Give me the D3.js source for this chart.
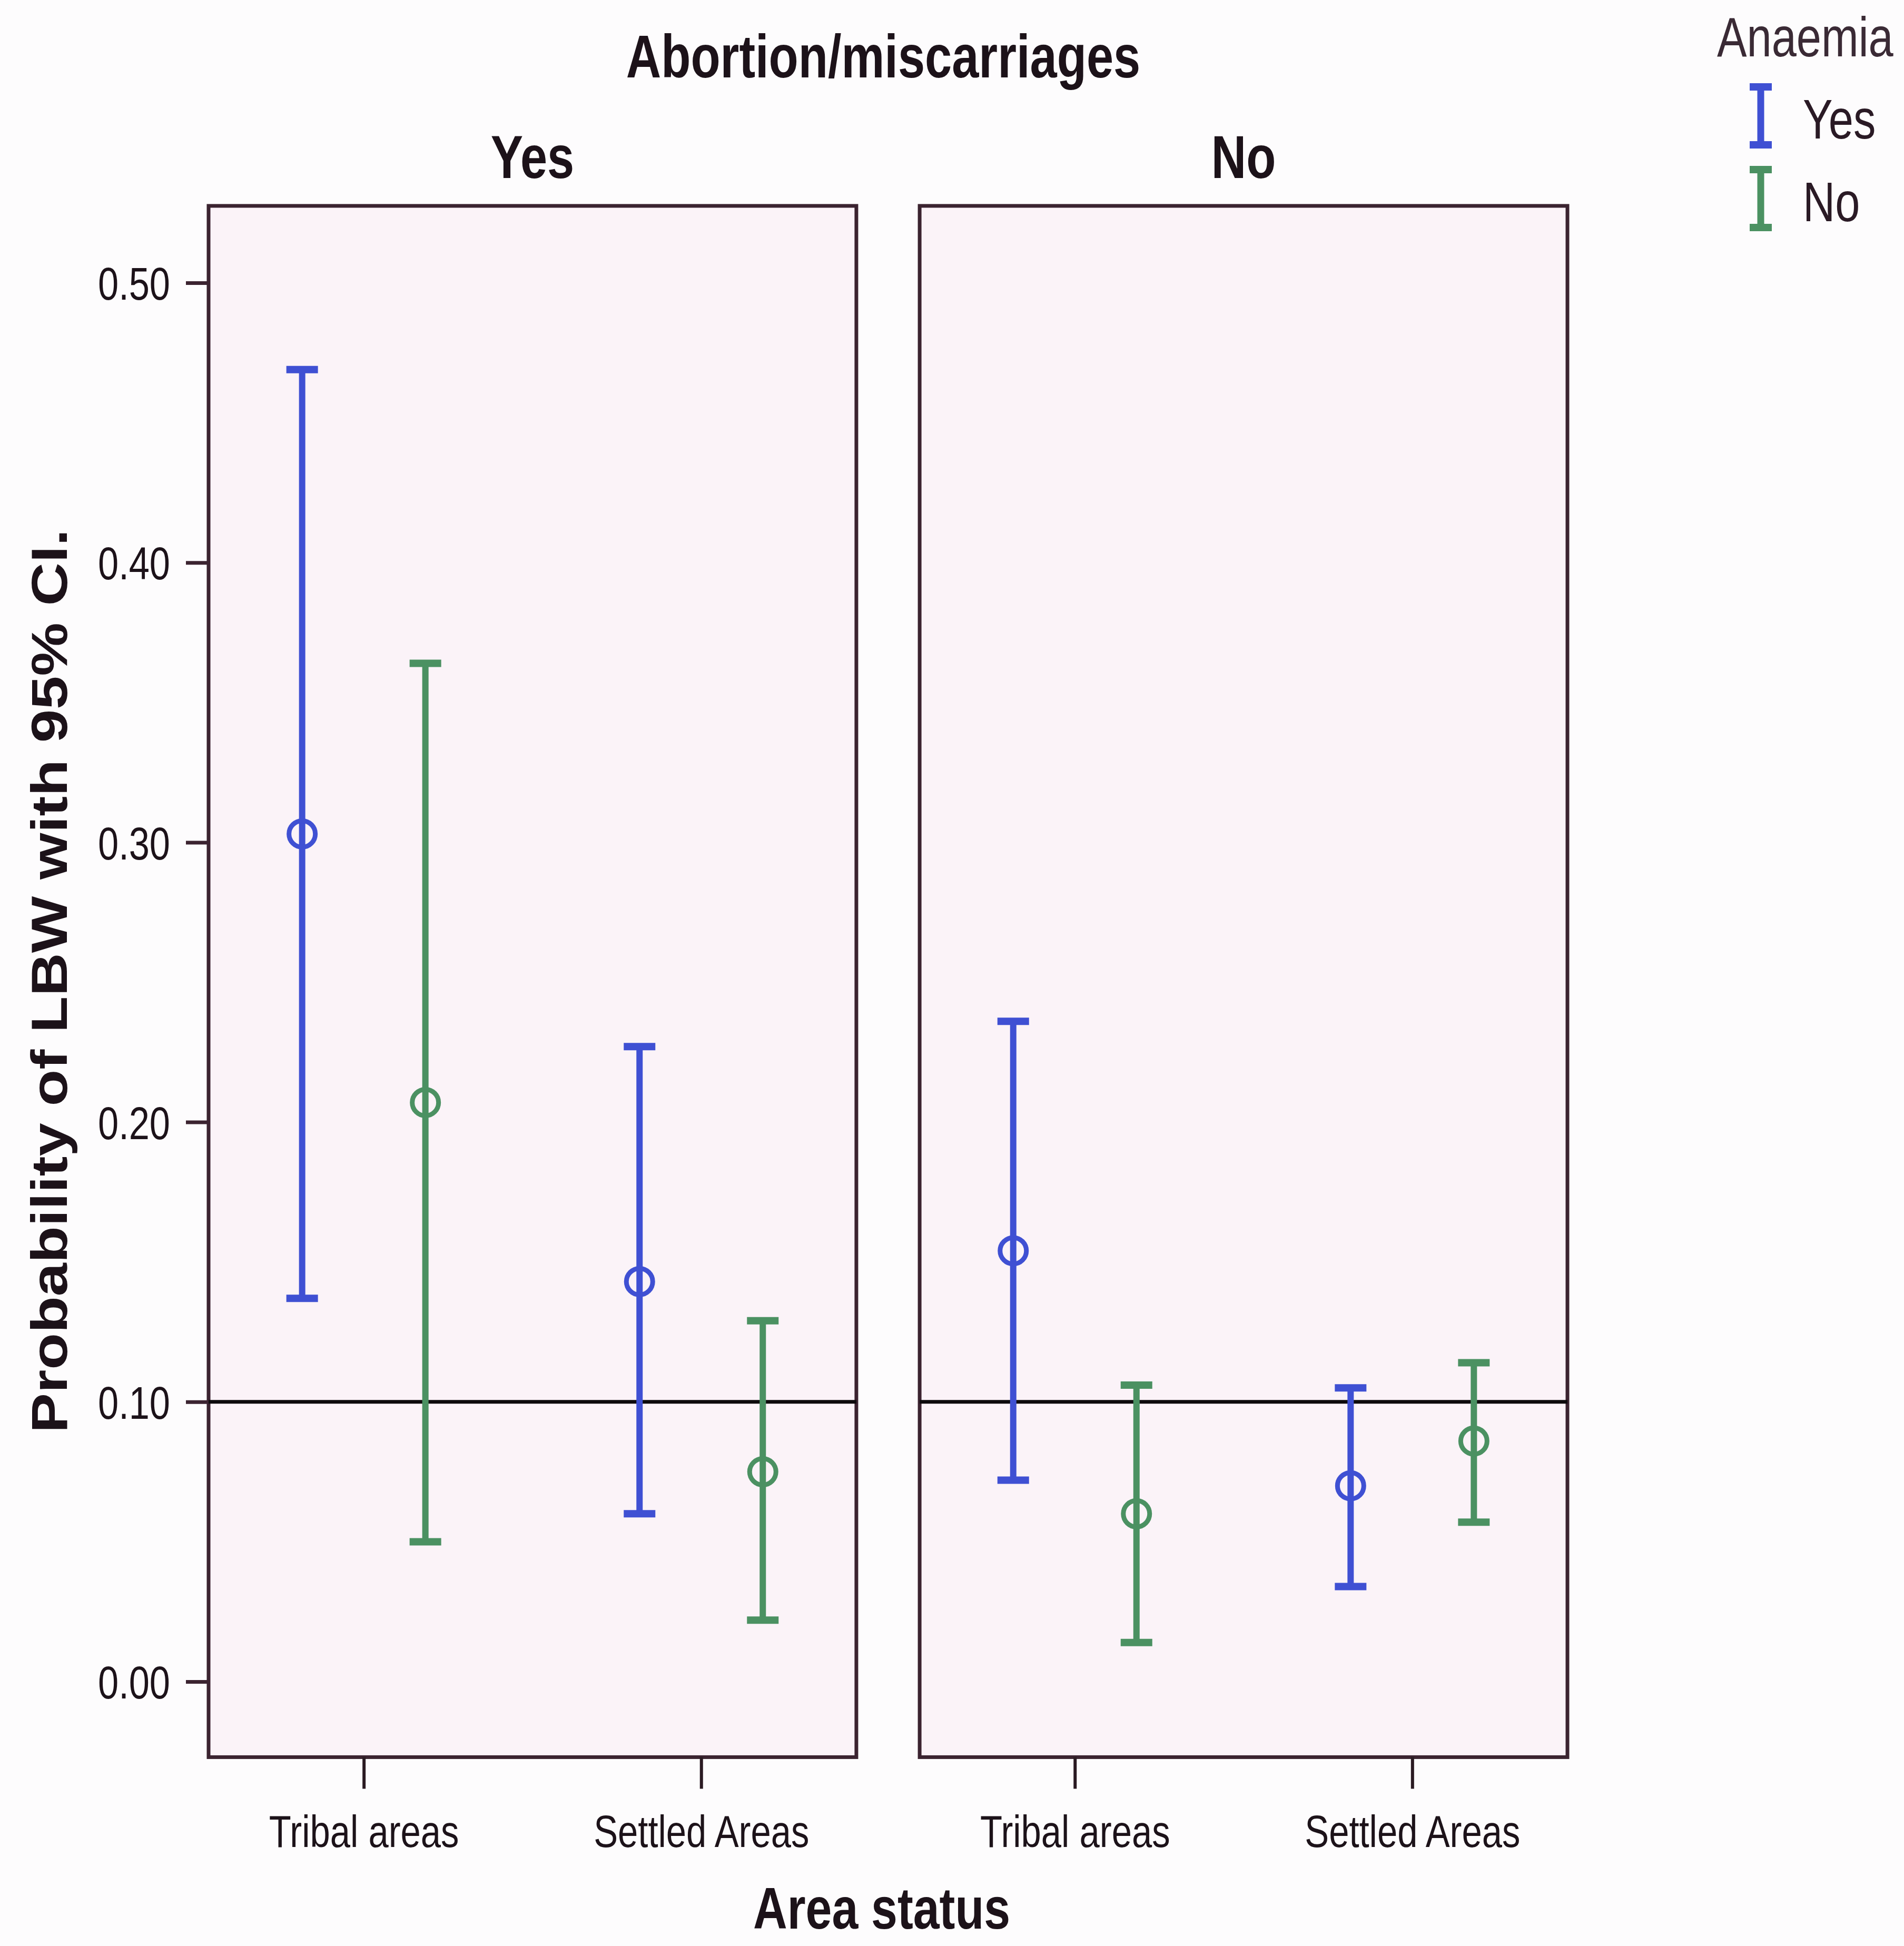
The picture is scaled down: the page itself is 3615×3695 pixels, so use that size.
<!DOCTYPE html>
<html>
<head>
<meta charset="utf-8">
<script src="https://cdn.jsdelivr.net/npm/d3@7"></script>
<style>
  body { margin: 0; background: #fdfcfd; }
  text { font-family: "Liberation Sans", Arial, sans-serif; fill: #1c1219; }
</style>
</head>
<body>
<div class="chart"></div>
<script>
// Data
var abortionGroups = ["Yes", "No"];
var areaStatus = ["Tribal areas", "Settled Areas"];
var anaemiaGroups = ["Yes", "No"];

var rowAbortion = ["Yes", "Yes", "Yes", "Yes", "No", "No", "No", "No"];
var rowArea = ["Tribal areas", "Tribal areas", "Settled Areas", "Settled Areas",
               "Tribal areas", "Tribal areas", "Settled Areas", "Settled Areas"];
var rowAnaemia = ["Yes", "No", "Yes", "No", "Yes", "No", "Yes", "No"];
var meanValues = [0.303, 0.207, 0.143, 0.075, 0.154, 0.060, 0.070, 0.086];
var lowerCI = [0.137, 0.050, 0.060, 0.022, 0.072, 0.014, 0.034, 0.057];
var upperCI = [0.469, 0.364, 0.227, 0.129, 0.236, 0.106, 0.105, 0.114];

var yTicks = [0, 0.1, 0.2, 0.3, 0.4, 0.5];
var refValue = 0.10;

// Set up the chart
var svgWidth = 3615;
var svgHeight = 3695;
var SX = 0.8; // the original text is squeezed horizontally

var colors = { Yes: "#3f50d3", No: "#4b9162" };

var svg = d3.select(".chart")
  .append("svg")
  .attr("width", svgWidth)
  .attr("height", svgHeight);

var yScale = d3.scaleLinear().domain([0, 0.5]).range([3193, 537]);
var yMin = -0.027, yMax = 0.5275;

var facetScale = d3.scaleBand()
  .domain(abortionGroups)
  .range([396, 2976])
  .paddingInner(0.089);

var areaScale = d3.scalePoint()
  .domain(areaStatus)
  .range([0, facetScale.bandwidth()])
  .padding(0.46);

var offsetScale = d3.scalePoint().domain(anaemiaGroups).range([-117, 117]);

function label(g, x, y, txt, size, weight, anchor) {
  return g.append("text")
    .attr("transform", "translate(" + x + "," + y + ") scale(" + SX + ",1)")
    .attr("text-anchor", anchor || "middle")
    .style("font-size", size + "px")
    .style("font-weight", weight || "normal")
    .text(txt);
}

var rows = meanValues.map(function(m, i) {
  return { abortion: rowAbortion[i], area: rowArea[i], anaemia: rowAnaemia[i],
           mean: m, lo: lowerCI[i], hi: upperCI[i] };
});

abortionGroups.forEach(function(grp) {
  var panel = svg.append("g")
    .attr("transform", "translate(" + facetScale(grp) + ",0)");
  var w = facetScale.bandwidth();

  panel.append("rect")
    .attr("x", 0)
    .attr("y", yScale(yMax))
    .attr("width", w)
    .attr("height", yScale(yMin) - yScale(yMax))
    .attr("fill", "#fbf3f8")
    .attr("stroke", "#3b2330")
    .attr("stroke-width", 7);

  // bottom axis
  var bottomAxis = d3.axisBottom(areaScale).tickSize(60).tickPadding(50);
  var ax = panel.append("g")
    .attr("transform", "translate(0," + yScale(yMin) + ")")
    .call(bottomAxis);
  ax.select(".domain").remove();
  ax.attr("font-size", null).attr("font-family", null);
  ax.selectAll(".tick line").attr("stroke", "#2a1a22").attr("stroke-width", 6);
  ax.selectAll(".tick text")
    .style("font-size", "86px")
    .attr("transform", "scale(" + SX + ",1)");

  // reference line
  panel.append("line")
    .attr("x1", 0).attr("x2", w)
    .attr("y1", yScale(refValue)).attr("y2", yScale(refValue))
    .attr("stroke", "#0d0a0c")
    .attr("stroke-width", 7);

  // facet header
  label(panel, w / 2, 338, grp, 115, "bold");

  var data = rows.filter(function(r) { return r.abortion === grp; });
  var bars = panel.selectAll(".bar")
    .data(data)
    .enter()
    .append("g")
    .attr("class", "bar")
    .attr("transform", function(d) {
      return "translate(" + (areaScale(d.area) + offsetScale(d.anaemia)) + ",0)";
    });

  bars.append("line")
    .attr("y1", function(d) { return yScale(d.lo); })
    .attr("y2", function(d) { return yScale(d.hi); })
    .attr("stroke", function(d) { return colors[d.anaemia]; })
    .attr("stroke-width", 12);

  ["hi", "lo"].forEach(function(k) {
    bars.append("line")
      .attr("x1", -30).attr("x2", 30)
      .attr("y1", function(d) { return yScale(d[k]); })
      .attr("y2", function(d) { return yScale(d[k]); })
      .attr("stroke", function(d) { return colors[d.anaemia]; })
      .attr("stroke-width", 14);
  });

  bars.append("circle")
    .attr("cy", function(d) { return yScale(d.mean); })
    .attr("r", 25)
    .attr("fill", "none")
    .attr("stroke", function(d) { return colors[d.anaemia]; })
    .attr("stroke-width", 9);
});

// left axis
var leftAxis = d3.axisLeft(yScale)
  .tickValues(yTicks)
  .tickFormat(d3.format(".2f"))
  .tickSize(43);
var yAx = svg.append("g")
  .attr("transform", "translate(" + facetScale(abortionGroups[0]) + ",0)")
  .call(leftAxis);
yAx.select(".domain").remove();
yAx.attr("font-size", null).attr("font-family", null);
yAx.selectAll(".tick line").attr("stroke", "#3b2330").attr("stroke-width", 7);
yAx.selectAll(".tick text")
  .style("font-size", "88px")
  .attr("x", -73 / SX)
  .attr("dy", "0.36em")
  .attr("transform", "scale(" + SX + ",1)");

// titles
label(svg, 1677, 147, "Abortion/miscarriages", 115, "bold");
label(svg, 1674, 3662, "Area status", 112, "bold");

svg.append("text")
  .attr("transform", "translate(127,1863) scale(0.85,1) rotate(-90)")
  .attr("text-anchor", "middle")
  .style("font-size", "114px")
  .style("font-weight", "bold")
  .text("Probability of LBW with 95% CI.");

// legend
var legend = svg.append("g");
label(legend, 3260, 107, "Anaemia", 106, "normal", "start").style("fill", "#3a2a35");
var legendTop = d3.scalePoint().domain(anaemiaGroups).range([165, 322]);
anaemiaGroups.forEach(function(a) {
  var t = legendTop(a);
  var item = legend.append("g").attr("transform", "translate(3343," + t + ")");
  item.append("line").attr("y1", 0).attr("y2", 110)
    .attr("stroke", colors[a]).attr("stroke-width", 13);
  item.append("line").attr("x1", -21).attr("x2", 21).attr("y1", 0).attr("y2", 0)
    .attr("stroke", colors[a]).attr("stroke-width", 14);
  item.append("line").attr("x1", -21).attr("x2", 21).attr("y1", 110).attr("y2", 110)
    .attr("stroke", colors[a]).attr("stroke-width", 14);
  label(legend, 3423, t + 98, a, 106, "normal", "start").style("fill", "#2a1a25");
});
</script>
</body>
</html>
